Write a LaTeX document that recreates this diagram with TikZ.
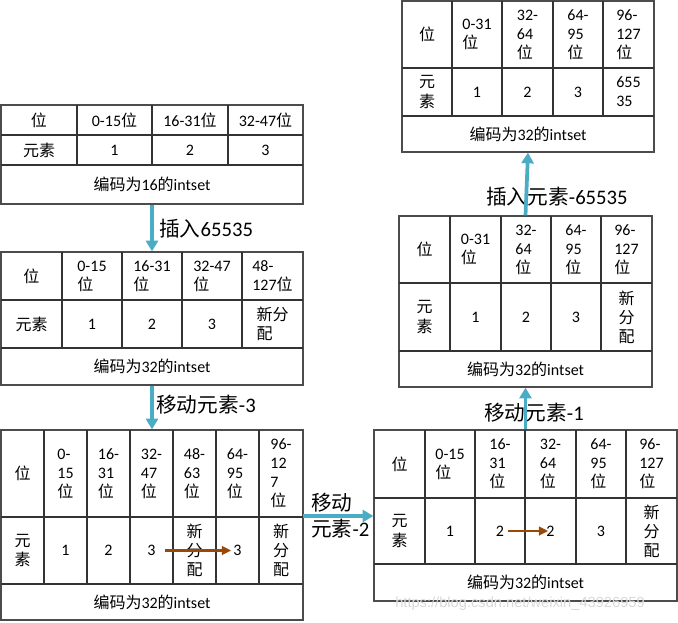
\documentclass[tikz,border=0pt]{standalone}
\usepackage{fontspec}
\setmainfont{Carlito}
\newfontfamily\cjk{Noto Sans CJK SC}
\newfontfamily\wmfont{Liberation Sans}
\newcommand\zh[1]{{\cjk #1}}
\usetikzlibrary{arrows.meta,fit}
\definecolor{flowblue}{HTML}{4BACC6}
\definecolor{movebrown}{HTML}{984807}
\tikzset{
  tline/.style={draw=black!80, line width=0.9pt},
  tbl/.style={draw=black!70, line width=1pt, inner sep=0pt, fit={#1}},
  cell/.style={font=\fontsize{12}{14.3}\selectfont, align=left, inner sep=0pt, text=black},
  lbl/.style={font=\fontsize{15.5}{20}\selectfont, align=left, inner sep=0pt, anchor=west},
  flow/.style={draw=flowblue, line width=2.8pt, -{Triangle[width=9pt,length=8pt]}},
  move/.style={draw=movebrown, line width=2pt, -{Triangle[width=6.5pt,length=7pt]}},
}
\newcommand\tgrid[6]{%
  \foreach \cx in {#1} {\draw[tline] (\cx,#2) -- (\cx,#4);}
  \draw[tline] (#5,#3) -- (#6,#3) (#5,#4) -- (#6,#4);}
\newcommand\cellat[3]{\node[cell] (#1) at (#2) {#3};}
\begin{document}
\begin{tikzpicture}[x=0.75pt,y=-0.75pt]
\useasboundingbox (0,0) rectangle (678,622);

% ---------- Table 1 ----------
\node[tbl={(1,105) (303,204)}] (t1) {};
\tgrid{77,152,228}{105}{135}{165}{1}{303}
\cellat{t1h0}{39,120}{\zh{位}}
\cellat{t1h1}{114.5,120}{0-15\zh{位}}
\cellat{t1h2}{190,120}{16-31\zh{位}}
\cellat{t1h3}{265.5,120}{32-47\zh{位}}
\cellat{t1e0}{39,150}{\zh{元素}}
\cellat{t1e1}{114.5,150}{1}
\cellat{t1e2}{190,150}{2}
\cellat{t1e3}{265.5,150}{3}
\cellat{t1c}{152,184.5}{\zh{编码为}16\zh{的}intset}

% ---------- Table 2 ----------
\node[tbl={(1,252) (303,385)}] (t2) {};
\tgrid{62,122,182,242}{252}{300}{348}{1}{303}
\cellat{t2h0}{31.5,276}{\zh{位}}
\cellat{t2h1}{92,276}{0-15\\\zh{位}}
\cellat{t2h2}{152,276}{16-31\\\zh{位}}
\cellat{t2h3}{212,276}{32-47\\\zh{位}}
\cellat{t2h4}{272.5,276}{48-\\127\zh{位}}
\cellat{t2e0}{31.5,324}{\zh{元素}}
\cellat{t2e1}{92,324}{1}
\cellat{t2e2}{152,324}{2}
\cellat{t2e3}{212,324}{3}
\cellat{t2e4}{272.5,324}{\zh{新分}\\\zh{配}}
\cellat{t2c}{152,366.5}{\zh{编码为}32\zh{的}intset}

% ---------- Table 3 ----------
\node[tbl={(1,430) (303,620)}] (t3) {};
\tgrid{44,87,130,173,216,259}{430}{517}{584}{1}{303}
\cellat{t3h0}{22.5,473.5}{\zh{位}}
\cellat{t3h1}{65.5,473.5}{0-\\15\\\zh{位}}
\cellat{t3h2}{108.5,473.5}{16-\\31\\\zh{位}}
\cellat{t3h3}{151.5,473.5}{32-\\47\\\zh{位}}
\cellat{t3h4}{194.5,473.5}{48-\\63\\\zh{位}}
\cellat{t3h5}{237.5,473.5}{64-\\95\\\zh{位}}
\cellat{t3h6}{281,473.5}{96-\\12\\7\\\zh{位}}
\cellat{t3e0}{22.5,550.5}{\zh{元}\\\zh{素}}
\cellat{t3e1}{65.5,550.5}{1}
\cellat{t3e2}{108.5,550.5}{2}
\cellat{t3e3}{151.5,550.5}{3}
\cellat{t3e4}{194.5,550.5}{\zh{新}\\\zh{分}\\\zh{配}}
\cellat{t3e5}{237.5,550.5}{3}
\cellat{t3e6}{281,550.5}{\zh{新}\\\zh{分}\\\zh{配}}
\cellat{t3c}{152,602}{\zh{编码为}32\zh{的}intset}

% ---------- Table 4 ----------
\node[tbl={(374,430) (677,601)}] (t4) {};
\tgrid{425,475,525,576,626}{430}{498}{564}{374}{677}
\cellat{t4h0}{399.5,464}{\zh{位}}
\cellat{t4h1}{450,464}{0-15\\\zh{位}}
\cellat{t4h2}{500,464}{16-\\31\\\zh{位}}
\cellat{t4h3}{550.5,464}{32-\\64\\\zh{位}}
\cellat{t4h4}{601,464}{64-\\95\\\zh{位}}
\cellat{t4h5}{651.5,464}{96-\\127\\\zh{位}}
\cellat{t4e0}{399.5,531}{\zh{元}\\\zh{素}}
\cellat{t4e1}{450,531}{1}
\cellat{t4e2}{500,531}{2}
\cellat{t4e3}{550.5,531}{2}
\cellat{t4e4}{601,531}{3}
\cellat{t4e5}{651.5,531}{\zh{新}\\\zh{分}\\\zh{配}}
\cellat{t4c}{525.5,582.5}{\zh{编码为}32\zh{的}intset}

% ---------- Table 5 ----------
\node[tbl={(399,216) (652,387)}] (t5) {};
\tgrid{450,501,551,601}{216}{283}{351}{399}{652}
\cellat{t5h0}{424.5,249.5}{\zh{位}}
\cellat{t5h1}{475.5,249.5}{0-31\\\zh{位}}
\cellat{t5h2}{526,249.5}{32-\\64\\\zh{位}}
\cellat{t5h3}{576,249.5}{64-\\95\\\zh{位}}
\cellat{t5h4}{626.5,249.5}{96-\\127\\\zh{位}}
\cellat{t5e0}{424.5,317}{\zh{元}\\\zh{素}}
\cellat{t5e1}{475.5,317}{1}
\cellat{t5e2}{526,317}{2}
\cellat{t5e3}{576,317}{3}
\cellat{t5e4}{626.5,317}{\zh{新}\\\zh{分}\\\zh{配}}
\cellat{t5c}{525.5,369}{\zh{编码为}32\zh{的}intset}

% ---------- Table 6 ----------
\node[tbl={(402,1) (654,152)}] (t6) {};
\tgrid{452,502,553,603}{1}{68}{116}{402}{654}
\cellat{t6h0}{427,34.5}{\zh{位}}
\cellat{t6h1}{477,34.5}{0-31\\\zh{位}}
\cellat{t6h2}{527.5,34.5}{32-\\64\\\zh{位}}
\cellat{t6h3}{578,34.5}{64-\\95\\\zh{位}}
\cellat{t6h4}{628.5,34.5}{96-\\127\\\zh{位}}
\cellat{t6e0}{427,92}{\zh{元}\\\zh{素}}
\cellat{t6e1}{477,92}{1}
\cellat{t6e2}{527.5,92}{2}
\cellat{t6e3}{578,92}{3}
\cellat{t6e4}{628.5,92}{655\\35}
\cellat{t6c}{528,134}{\zh{编码为}32\zh{的}intset}

% ---------- labels ----------
\node[lbl] (l1) at (159,229) {\zh{插入}65535};
\node[lbl] (l2) at (156,405) {\zh{移动元素}-3};
\node[lbl] (l3) at (311,515.5) {\zh{移动}\\\zh{元素}-2};
\node[lbl] (l4) at (484,413) {\zh{移动元素}-1};
\node[lbl] (l5) at (486,197) {\zh{插入元素}-65535};

% ---------- flow arrows ----------
\draw[flow] (t1.south) -- (t2.north);
\draw[flow] (t2.south) -- (t3.north);
\coordinate (a3) at (303,516);
\draw[flow] (a3) -- (a3 -| t4.west);
\draw[flow] (t4.north) -- (t5.south);
\draw[flow] (t5.north) -- (t6.south);

% ---------- move arrows ----------
\draw[move, shorten <=7pt, shorten >=1.5pt] (t3e3.east) -- (t3e5.west);
\draw[move, shorten <=3pt, shorten >=-1.5pt] (t4e2.east) -- (t4e3.west);

% ---------- watermark ----------
\node[font=\wmfont\fontsize{11}{13}\selectfont, text=black!15, anchor=west, inner sep=0pt] (wm) at (395,604) {https://blog.csdn.net/weixin\_43926959};
\end{tikzpicture}
\end{document}
